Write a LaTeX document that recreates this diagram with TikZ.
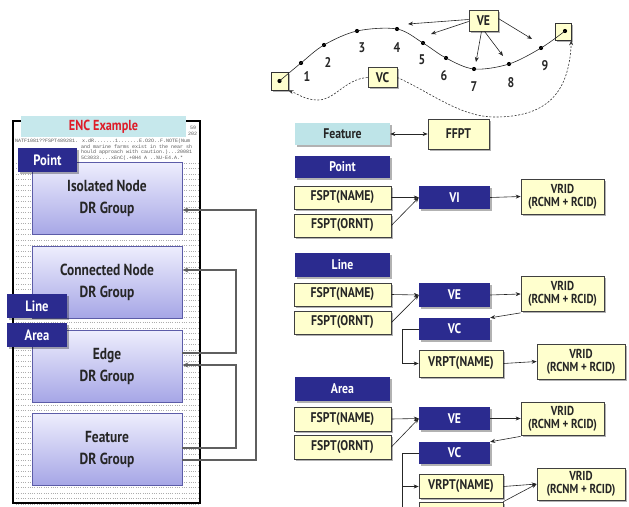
\documentclass[tikz,border=0pt]{standalone}
\usepackage{fontspec}
\setmainfont{PT Sans}
\newfontfamily\cond[FakeStretch=0.84]{PT Sans}
\newfontfamily\tinymono{Liberation Mono}
\usetikzlibrary{shadows,arrows.meta}
\definecolor{navy}{RGB}{43,43,143}
\definecolor{ylw}{RGB}{255,255,206}
\definecolor{cyanf}{RGB}{190,228,232}
\definecolor{cyanh}{RGB}{198,232,236}
\definecolor{lavt}{RGB}{238,238,253}
\definecolor{lavbot}{RGB}{166,166,230}
\definecolor{lavb}{RGB}{92,92,168}
\definecolor{gcol}{RGB}{95,95,95}
\definecolor{encred}{RGB}{222,28,40}
\begin{document}
\begin{tikzpicture}[x=1pt,y=-1pt,
  shad/.style={drop shadow={shadow xshift=1.5pt,shadow yshift=-1.5pt,opacity=0.3,fill=black}},
  ybox/.style={draw=black!75,line width=0.7pt,fill=ylw,text=black!85,inner sep=0pt,
     font=\cond\bfseries\fontsize{14}{14}\selectfont,shad},
  vbox/.style={draw=black!75,line width=0.7pt,fill=ylw,text=black!85,inner sep=0pt,align=center,
     font=\cond\bfseries\fontsize{13}{13}\selectfont,minimum width=83pt,minimum height=35pt,shad},
  bbox/.style={fill=navy,text=white,inner sep=0pt,
     font=\cond\bfseries\fontsize{14}{14}\selectfont,shad},
  lav/.style={draw=lavb,line width=0.8pt,top color=lavt,bottom color=lavbot,align=center,
     text=black!85,inner sep=0pt,minimum width=150pt,minimum height=72pt,
     font=\cond\bfseries\fontsize{16}{22}\selectfont},
  dot/.style={circle,fill=black,inner sep=0pt,minimum size=4.2pt},
  num/.style={font=\cond\bfseries\fontsize{14}{14}\selectfont,text=black!85,inner sep=0pt},
  arr/.style={-{Stealth[length=5pt,width=4pt]},line width=0.6pt,draw=black!85},
  darr/.style={{Stealth[length=5pt,width=4pt]}-{Stealth[length=5pt,width=4pt]},line width=0.6pt,draw=black!85},
  dsh/.style={-{Stealth[length=5pt,width=4pt]},line width=0.6pt,draw=black!80,dash pattern=on 2pt off 1.6pt},
  gcon/.style={line width=2pt,draw=gcol,-{Stealth[length=6pt,width=5pt]}}
]
\useasboundingbox (0,0) rectangle (629,506);
\clip (0,0) rectangle (629,506);

% ================= left ENC panel =================
\node[draw=black,line width=1.4pt,fill=white,minimum width=187pt,minimum height=382pt,inner sep=0pt] (frame) at (106.5,312) {};
\foreach \r in {0,...,62}{
  \draw[black!32,line width=0.55pt,dash pattern=on 0.6pt off 1.7pt] (16,163+\r*5.5) -- (198,163+\r*5.5);
}
\begin{scope}[every node/.style={font=\tinymono\fontsize{5}{5}\selectfont,text=black!65,inner sep=0pt,anchor=west}]
\node at (15,141.5) {NATF1081??FSPT489281. x.dR.......1.......E.O2O..F.NOTE(Num};
\node at (81,147) {and marine farms exist in the near sh};
\node at (81,152.5) {hould approach with caution.)...20081};
\node at (81,158) {5C3033....xEnC(.+0H4 A ..\%U-E4.A.*};
\node at (190,128) {59};
\node at (188,134) {202};
\end{scope}
\node[fill=cyanh,minimum width=165pt,minimum height=21pt,inner sep=0pt,text=encred,
  font=\cond\bfseries\fontsize{14.5}{14}\selectfont] (enc) at (103.5,126.5) {ENC Example};

\node[lav] (iso)  at (107,198.5) {Isolated Node\\DR Group};
\node[lav] (conn) at (107,282) {Connected Node\\DR Group};
\node[lav] (edge) at (107,366) {Edge\\DR Group};
\node[lav] (feat) at (107,449) {Feature\\DR Group};

\node[bbox,minimum width=59pt,minimum height=24pt,font=\cond\bfseries\fontsize{15}{15}\selectfont] (lpoint) at (47.5,160) {Point};
\node[bbox,minimum width=60pt,minimum height=24pt,font=\cond\bfseries\fontsize{15}{15}\selectfont] (lline) at (37,306) {Line};
\node[bbox,minimum width=60pt,minimum height=24pt,font=\cond\bfseries\fontsize{15}{15}\selectfont] (larea) at (37,335) {Area};

\draw[gcon] ([yshift=-11pt]feat.east) -- (256,460) -- (256,210) -- ([yshift=-11.5pt]iso.east);
\draw[gcon] ([yshift=13pt]edge.east) -- (236,353) -- (236,270) -- ([yshift=12pt]conn.east);
\draw[gcon] ([yshift=1pt]feat.east) -- (236,448) -- (236,365) -- ([yshift=1pt]edge.east);

% ================= top curve figure =================
\node[draw=black!80,line width=0.7pt,fill=ylw,minimum width=17pt,minimum height=18pt,inner sep=0pt,shad] (b1) at (279.5,81) {};
\node[draw=black!80,line width=0.7pt,fill=ylw,minimum width=16pt,minimum height=17pt,inner sep=0pt,shad] (b2) at (563,31.5) {};
\node[dot] (d0) at (279.5,81) {};
\node[dot] (d1) at (301,63) {};
\node[dot] (d2) at (324,45) {};
\node[dot] (d3) at (357,31) {};
\node[dot] (d4) at (397,29) {};
\node[dot] (d5) at (423,43) {};
\node[dot] (d6) at (446,58) {};
\node[dot] (d7) at (474,69) {};
\node[dot] (d8) at (509,64) {};
\node[dot] (d9) at (541,48) {};
\node[dot] (d10) at (565,31) {};
\draw[line width=0.6pt,black!85] plot[smooth,tension=0.55] coordinates {(d0) (d1) (d2) (d3) (d4) (d5) (d6) (d7) (d8) (d9) (d10)};
\node[num] at (307,77) {1};
\node[num] at (328,63) {2};
\node[num] at (362,48) {3};
\node[num] at (397,48) {4};
\node[num] at (422,60) {5};
\node[num] at (444,76) {6};
\node[num] at (474,87) {7};
\node[num] at (511,83) {8};
\node[num] at (545,66) {9};

\node[ybox,minimum width=29pt,minimum height=21pt] (tve) at (483.5,20.5) {VE};
\node[ybox,minimum width=29pt,minimum height=20pt] (tvc) at (382.5,77.5) {VC};
\coordinate (e1) at (408,24);
\coordinate (e2) at (431,34);
\coordinate (e3) at (476,62);
\coordinate (e4) at (503,56);
\coordinate (e5) at (532,39);
\draw[arr] ([yshift=1pt]tve.west) -- (e1);
\draw[arr] ([yshift=-1pt]tve.west) -- (e2);
\draw[arr] ([xshift=-2pt]tve.south) -- (e3);
\draw[arr] ([xshift=1pt]tve.south) -- (e4);
\draw[arr] ([yshift=2pt]tve.east) -- (e5);
\draw[dsh] (tvc.west) .. controls (345,79) and (335,100) .. (318,100) .. controls (305,100) and (298,94) .. (b1.south east);
\draw[dsh] (tvc.east) .. controls (430,92) and (460,117) .. (495,117) .. controls (545,117) and (569,95) .. (b2.south east);

% ================= right: Feature / FFPT =================
\node[fill=cyanf,minimum width=95pt,minimum height=22pt,inner sep=0pt,text=black!85,
  font=\cond\bfseries\fontsize{14}{14}\selectfont,shad] (feature) at (342.5,134) {Feature};
\node[ybox,minimum width=61pt,minimum height=30pt] (ffpt) at (458.5,134) {FFPT};
\draw[darr] (feature.east) -- (ffpt.west);

% ---- Point
\node[bbox,minimum width=95pt,minimum height=22pt] (ppoint) at (342.5,167) {Point};
\node[ybox,minimum width=97pt,minimum height=23pt] (pname) at (342.5,197.5) {FSPT(NAME)};
\node[ybox,minimum width=97pt,minimum height=23pt] (pornt) at (342.5,225.5) {FSPT(ORNT)};
\node[bbox,minimum width=71pt,minimum height=23pt] (pvi) at (454.5,197.5) {VI};
\node[vbox] (pvrid) at (562.5,196.5) {VRID\\(RCNM + RCID)};
\draw[arr] (pname.east) -- (pvi.west);
\draw[arr] (pornt.east) -- (pvi.west);
\draw[arr] (pvi.east) -- (pvrid.west);

% ---- Line
\node[bbox,minimum width=95pt,minimum height=24pt] (lline2) at (342.5,265) {Line};
\node[ybox,minimum width=97pt,minimum height=23pt] (lname) at (342.5,294.5) {FSPT(NAME)};
\node[ybox,minimum width=97pt,minimum height=23pt] (lornt) at (342.5,322.5) {FSPT(ORNT)};
\node[bbox,minimum width=71pt,minimum height=24pt] (lve) at (454.5,295) {VE};
\node[vbox] (lvrid) at (562.5,294) {VRID\\(RCNM + RCID)};
\node[bbox,minimum width=71pt,minimum height=22pt] (lvc) at (454.5,329) {VC};
\node[ybox,minimum width=84pt,minimum height=27pt] (lvrpt) at (461,363.5) {VRPT(NAME)};
\node[vbox,minimum width=88pt] (lvrid2) at (581,361.5) {VRID\\(RCNM + RCID)};
\draw[arr] (lname.east) -- (lve.west);
\draw[arr] (lornt.east) -- (lve.west);
\draw[arr] (lve.east) -- (lvrid.west);
\draw[arr] ([yshift=-1pt]lvrid.south west) -- (lvc.north east);
\draw[arr] (lvc.west) -- ([xshift=-17pt]lvc.west) |- (lvrpt.west);
\draw[arr] (lvrpt.east) -- (lvrid2.west);

% ---- Area
\node[bbox,minimum width=95pt,minimum height=24pt] (aarea) at (342.5,389) {Area};
\node[ybox,minimum width=97pt,minimum height=24pt] (aname) at (342.5,419) {FSPT(NAME)};
\node[ybox,minimum width=97pt,minimum height=24pt] (aornt) at (342.5,447) {FSPT(ORNT)};
\node[bbox,minimum width=71pt,minimum height=23pt] (ave) at (454.5,418.5) {VE};
\node[vbox,minimum height=33pt] (avrid) at (562.5,418.5) {VRID\\(RCNM + RCID)};
\node[bbox,minimum width=71pt,minimum height=22pt] (avc) at (454.5,453) {VC};
\node[ybox,minimum width=84pt,minimum height=24pt] (avrpt) at (461,486.5) {VRPT(NAME)};
\node[ybox,minimum width=84pt,minimum height=24pt] (avrpt2) at (461,514) {};
\node[vbox,minimum width=88pt,minimum height=32pt] (avrid2) at (581,484) {VRID\\(RCNM + RCID)};
\draw[arr] (aname.east) -- (ave.west);
\draw[arr] (aornt.east) -- (ave.west);
\draw[arr] (ave.east) -- (avrid.west);
\draw[arr] ([yshift=-1pt]avrid.south west) -- (avc.north east);
\draw[arr] (avc.west) -- ([xshift=-17pt]avc.west) |- (avrpt.west);
\draw[arr] ([xshift=-17pt]avc.west) |- (avrpt2.west);
\draw[arr] (avrpt.east) -- (avrid2.west);
\draw[arr] (avrpt2.north east) -- (avrid2.west);
\end{tikzpicture}
\end{document}
